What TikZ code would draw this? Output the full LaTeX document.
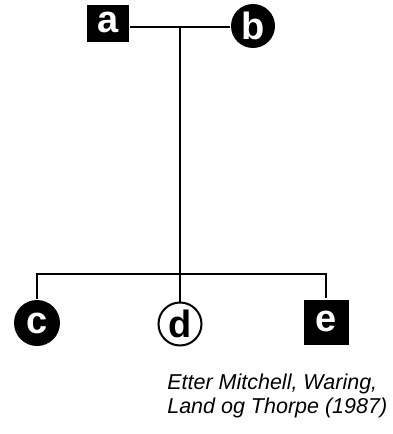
\documentclass[tikz,border=0pt]{standalone}
\usepackage{fontspec}
\setmainfont{Liberation Sans}
\begin{document}
\begin{tikzpicture}[x=1pt,y=-1pt,
  line width=2.6pt,
  symbol/.style={inner sep=0pt, font=\fontsize{38}{38}\selectfont\bfseries},
  male/.style={symbol, rectangle, fill=black, draw=none, text=white},
  female/.style={symbol, circle, fill=black, draw=none, text=white, minimum size=44pt},
  openfemale/.style={symbol, circle, fill=white, draw=black, line width=2pt, text=black, minimum size=43pt},
  note/.style={font=\fontsize{21.5}{23.5}\selectfont\itshape, align=left, inner sep=0pt}]
  \useasboundingbox (0,0) rectangle (393,434);

  % parents
  \node[male, minimum width=42pt, minimum height=37pt] (a) at (108,23) {\raisebox{0pt}[0.5em][0pt]{a}};
  \node[female] (b) at (253,26) {b};
  \coordinate (top) at (180,27);
  \draw (a.east |- top) -- (b.west |- top);

  % children
  \node[female, minimum size=46pt] (c) at (37,323) {c};
  \node[openfemale] (d) at (180,324) {d};
  \node[male, minimum width=45pt, minimum height=45pt] (e) at (326,322) {\raisebox{0pt}[0.5em][0pt]{e}};

  \coordinate (sib) at (180,274);
  \draw (top) -- (sib);
  \draw (c.north) |- (sib) -| (e.north);
  \draw (sib) -- (d.north);

  % source
  \node[note, anchor=north west] (src) at (166,373) {Etter Mitchell, Waring,\\Land og Thorpe (1987)};
\end{tikzpicture}
\end{document}
